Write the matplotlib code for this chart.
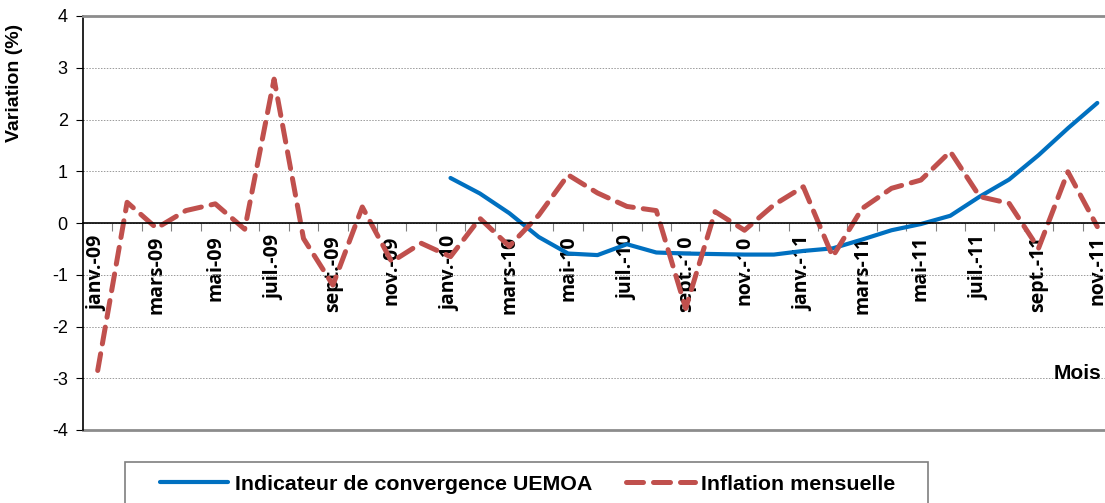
import numpy as np
import matplotlib.pyplot as plt
from matplotlib.patches import Rectangle

# Data ==============================================
months = ['janv.-09', 'févr.-09', 'mars-09', 'avr.-09', 'mai-09', 'juin-09',
          'juil.-09', 'août-09', 'sept.-09', 'oct.-09', 'nov.-09', 'déc.-09',
          'janv.-10', 'févr.-10', 'mars-10', 'avr.-10', 'mai-10', 'juin-10',
          'juil.-10', 'août-10', 'sept.-10', 'oct.-10', 'nov.-10', 'déc.-10',
          'janv.-11', 'févr.-11', 'mars-11', 'avr.-11', 'mai-11', 'juin-11',
          'juil.-11', 'août-11', 'sept.-11', 'oct.-11', 'nov.-11']

inflation = [-2.85, 0.40, -0.10, 0.24, 0.37, -0.12,
             2.78, -0.30, -1.20, 0.31, -0.75, -0.39,
             -0.65, 0.09, -0.45, 0.15, 0.93, 0.58,
             0.32, 0.24, -1.65, 0.22, -0.14, 0.35,
             0.70, -0.65, 0.28, 0.67, 0.83, 1.38,
             0.51, 0.38, -0.49, 0.99, -0.07]

# indicator only starts in janv.-10
indicateur = [np.nan] * 12 + [0.87, 0.57, 0.19, -0.27, -0.59, -0.62,
                              -0.41, -0.57, -0.59, -0.60, -0.61, -0.61,
                              -0.54, -0.49, -0.32, -0.14, -0.02, 0.14,
                              0.51, 0.84, 1.31, 1.83, 2.32]

yticks = [-4, -3, -2, -1, 0, 1, 2, 3, 4]

# Plot ==============================================
x = np.arange(len(months))

fig = plt.figure(figsize=(11.05, 5.03), dpi=100)
ax = fig.add_axes([83/1105, 73/503, 1029/1105, 414/503])

ax.plot(x, indicateur, color='#0070C0', lw=3.0, label='Indicateur de convergence UEMOA',
        solid_capstyle='round')
ax.plot(x, inflation, color='#C0504D', lw=3.6, dashes=(3.4, 2.0), dash_capstyle='round',
        label='Inflation mensuelle')

ax.set_xlim(-0.5, len(months) - 0.5)
ax.set_ylim(-4, 4)
ax.set_yticks(yticks)
ax.set_yticklabels([str(v) for v in yticks], fontsize=13, family='Liberation Sans')
ax.tick_params(axis='y', length=5, width=0.8, pad=6)
ax.yaxis.grid(True, color='#9a9a9a', ls=(0, (1.5, 1.5)), lw=0.7)
ax.set_axisbelow(True)

# x axis crossing at zero
ax.spines['bottom'].set_position(('data', 0))
ax.spines['bottom'].set_linewidth(1.2)
ax.spines['left'].set_linewidth(1.2)
ax.spines['top'].set_color('#8c8c8c')
ax.spines['top'].set_linewidth(2)
ax.spines['right'].set_visible(False)

ax.set_xticks(x[:-1] + 0.5)
ax.set_xticklabels([])
ax.tick_params(axis='x', which='major', direction='out', length=6, width=0.8, color='#808080')
ax.set_xticks(x[::2], minor=True)
ax.set_xticklabels(months[::2], minor=True, rotation=90, fontsize=14, fontweight='bold',
                   family='Open Sans', va='top')
ax.tick_params(axis='x', which='minor', length=0, pad=9)

# bottom frame line
ax.axhline(-4, color='#8c8c8c', lw=2, clip_on=False)

ax.text(0.013, 0.835, 'Variation (%)', transform=fig.transFigure, rotation=90,
        fontsize=14, fontweight='bold', family='Liberation Sans', ha='center', va='center')
ax.text(34.15, -2.9, 'Mois', fontsize=15, fontweight='bold', family='Liberation Sans',
        ha='right', va='center')

# legend box (cut by the bottom of the picture)
fig.patches.append(Rectangle((125/1105, -20/503), 803/1105, 61/503, transform=fig.transFigure,
                             facecolor='white', edgecolor='#7f7f7f', lw=1.2))
fig.legend(loc='center left', bbox_to_anchor=(160/1105, 19/503), ncol=2,
           prop={'family': 'Liberation Sans', 'weight': 'bold', 'size': 15.4},
           frameon=False, handlelength=3.2, columnspacing=1.6,
           borderpad=0, borderaxespad=0, handletextpad=0.3)

plt.savefig('out.png', dpi=100)
